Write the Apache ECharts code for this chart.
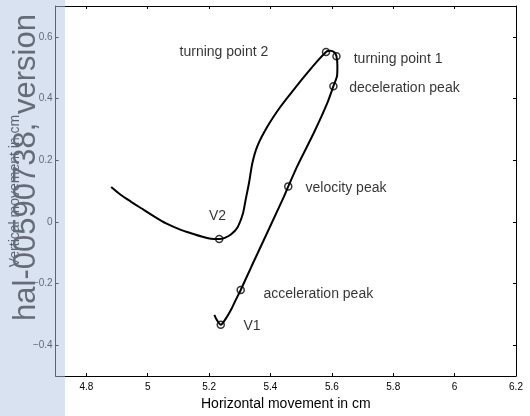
<!DOCTYPE html>
<html>
<head>
<meta charset="utf-8">
<script src="https://cdn.jsdelivr.net/npm/echarts@6/dist/echarts.min.js"></script>
<style>
html,body{margin:0;padding:0;background:#fff;}
#chart{width:530px;height:416px;}
</style>
</head>
<body>
<div id="chart"></div>
<script>
// ---- data ----
const pathX = [5.217,5.225,5.238,5.255,5.271,5.287,5.303,5.338,5.439,5.458,5.487,5.541,5.585,5.605,5.617,5.618,5.615,5.608,5.595,5.587,5.581,5.557,5.520,5.476,5.433,5.390,5.357,5.341,5.330,5.319,5.310,5.292,5.271,5.251,5.233,5.206,5.184,5.141,5.108,5.060,5.022,4.979,4.946,4.914,4.881];
const pathY = [-0.302,-0.318,-0.334,-0.313,-0.286,-0.253,-0.221,-0.145,0.071,0.115,0.180,0.288,0.385,0.440,0.474,0.506,0.537,0.550,0.555,0.554,0.551,0.526,0.483,0.429,0.374,0.309,0.245,0.191,0.126,0.071,0.026,-0.019,-0.041,-0.052,-0.056,-0.055,-0.050,-0.037,-0.026,-0.005,0.017,0.044,0.065,0.086,0.113];
const keyNames = ['V1','acceleration peak','velocity peak','deceleration peak','turning point 1','turning point 2','V2'];
const keyX = [5.238,5.303,5.458,5.605,5.615,5.581,5.233];
const keyY = [-0.334,-0.221,0.115,0.440,0.537,0.551,-0.056];
const xTicks = [4.8,5,5.2,5.4,5.6,5.8,6,6.2];
const yTicks = [-0.4,-0.2,0,0.2,0.4,0.6];
const xTitle = 'Horizontal movement in cm';
const yTitle = 'Vertical movement in cm';
const watermark = 'hal-00590738, version';

// ---- styling / layout ----
const FONT = '"Liberation Sans", Arial, Helvetica, sans-serif';
const labelLayout = {
  'V1': {pos:'right', off:[18.5,1]},
  'acceleration peak': {pos:'right', off:[18.5,4]},
  'velocity peak': {pos:'right', off:[13,2]},
  'deceleration peak': {pos:'right', off:[11.5,1.5]},
  'turning point 1': {pos:'right', off:[13,3]},
  'turning point 2': {pos:'left', off:[-53.5,0]},
  'V2': {pos:'right', off:[-14.5,-23]}
};
function fmt(v){
  const r = +(+v).toFixed(1);
  return r < 0 ? '\u2212' + Math.abs(r) : String(r);
}
const lineData = pathX.map((x,i)=>[x, pathY[i]]);
const keyData = keyNames.map((n,i)=>({
  name:n, value:[keyX[i], keyY[i]],
  label:{show:true, position:labelLayout[n].pos, distance:0, offset:labelLayout[n].off,
         formatter:n, color:'#000', fontSize:14, fontFamily:FONT}
}));

const axisCommon = {
  type:'value',
  axisLine:{show:true, onZero:false, lineStyle:{color:'#000', width:1}},
  splitLine:{show:false}
};

const chart = echarts.init(document.getElementById('chart'), null, {renderer:'canvas'});
chart.setOption({
  animation:false,
  backgroundColor:'#fff',
  grid:{left:53, right:14, top:6, bottom:40, containLabel:false},
  xAxis:[
    Object.assign({}, axisCommon, {
      position:'bottom', min:4.7, max:6.2,
      name:xTitle, nameLocation:'middle', nameGap:17,
      nameTextStyle:{color:'#000', fontSize:14, fontFamily:FONT},
      axisTick:{show:true, inside:true, length:3, customValues:xTicks, lineStyle:{color:'#000'}},
      axisLabel:{show:true, customValues:xTicks, formatter:fmt, color:'#000', fontSize:10, fontFamily:FONT, margin:6}
    }),
    Object.assign({}, axisCommon, {
      position:'top', min:4.7, max:6.2,
      axisTick:{show:true, inside:true, length:3, customValues:xTicks, lineStyle:{color:'#000'}},
      axisLabel:{show:false}
    })
  ],
  yAxis:[
    Object.assign({}, axisCommon, {
      position:'left', min:-0.5, max:0.7,
      name:yTitle, nameLocation:'middle', nameGap:28, nameRotate:90,
      nameTextStyle:{color:'#000', fontSize:14, fontFamily:FONT},
      axisTick:{show:true, inside:true, length:3, customValues:yTicks, lineStyle:{color:'#000'}},
      axisLabel:{show:true, customValues:yTicks, formatter:fmt, color:'#000', fontSize:10, fontFamily:FONT, margin:3}
    }),
    Object.assign({}, axisCommon, {
      position:'right', min:-0.5, max:0.7,
      axisTick:{show:true, inside:true, length:3, customValues:yTicks, lineStyle:{color:'#000'}},
      axisLabel:{show:false}
    })
  ],
  series:[
    {
      type:'line', xAxisIndex:0, yAxisIndex:0,
      data:lineData, showSymbol:false, smooth:0.25,
      lineStyle:{color:'#000', width:2}, silent:true
    },
    {
      type:'scatter', xAxisIndex:0, yAxisIndex:0,
      data:keyData, symbol:'circle', symbolSize:7,
      itemStyle:{color:'rgba(0,0,0,0)', borderColor:'#000', borderWidth:1.5}
    }
  ],
  graphic:[
    {type:'rect', z:100, shape:{x:0, y:0, width:65, height:416},
     style:{fill:'rgba(180,198,228,0.5)'}, silent:true},
    {type:'text', z:101, x:26, y:167.5, rotation:Math.PI/2,
     style:{text:watermark, fill:'#666b78', font:'31px ' + FONT, align:'center', verticalAlign:'middle'}, silent:true}
  ]
});
</script>
</body>
</html>
